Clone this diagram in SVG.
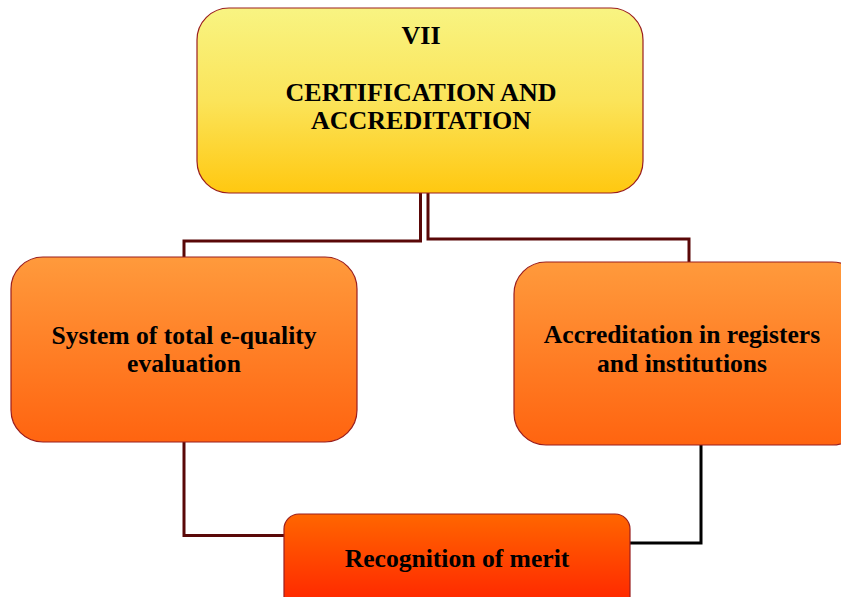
<svg xmlns="http://www.w3.org/2000/svg" width="841" height="597" viewBox="0 0 841 597">
<defs>
<linearGradient id="gTop" x1="0" y1="0" x2="0" y2="1">
<stop offset="0" stop-color="#f8f482"/>
<stop offset="0.5" stop-color="#fbe45a"/>
<stop offset="1" stop-color="#ffc810"/>
</linearGradient>
<linearGradient id="gMid" x1="0" y1="0" x2="0" y2="1">
<stop offset="0" stop-color="#ff9a3c"/>
<stop offset="1" stop-color="#ff6410"/>
</linearGradient>
<linearGradient id="gBot" x1="0" y1="0" x2="0" y2="1">
<stop offset="0" stop-color="#ff6600"/>
<stop offset="1" stop-color="#ff1800"/>
</linearGradient>
</defs>
<style>
.box{stroke:#9a1e1e;stroke-width:1.2}
.t{font-family:"Liberation Serif","Times New Roman",serif;font-weight:bold;font-size:25.6px;fill:#000;text-anchor:middle}
.h{font-size:26px}
.c{fill:none;stroke:#5a0808;stroke-width:3}
.k{fill:none;stroke:#000;stroke-width:3}
</style>
<rect width="841" height="597" fill="#fff"/>
<g id="connectors">
<polyline class="c" points="420.5,193 420.5,241 184,241 184,257"/>
<polyline class="c" points="428,193 428,239 689,239 689,262"/>
<polyline class="c" points="184,442 184,535.5 285,535.5"/>
<polyline class="k" points="701,443 701,543 629,543"/>
</g>
<g id="node-top">
<rect class="box" x="197" y="8" width="446" height="185" rx="32" fill="url(#gTop)"/>
<text class="t h" x="421" y="44">VII</text>
<text class="t h" x="421" y="101">CERTIFICATION AND</text>
<text class="t h" x="421" y="129">ACCREDITATION</text>
</g>
<g id="node-left">
<rect class="box" x="11" y="257" width="346" height="185" rx="32" fill="url(#gMid)"/>
<text class="t" x="184" y="344">System of total e-quality</text>
<text class="t" x="184" y="372">evaluation</text>
</g>
<g id="node-right">
<rect class="box" x="514" y="262" width="350" height="183" rx="32" fill="url(#gMid)"/>
<text class="t" x="682" y="343">Accreditation in registers</text>
<text class="t" x="682" y="372">and institutions</text>
</g>
<g id="node-bottom">
<rect class="box" x="284" y="514" width="346" height="110" rx="15" fill="url(#gBot)"/>
<text class="t" x="457" y="567">Recognition of merit</text>
</g>
</svg>
